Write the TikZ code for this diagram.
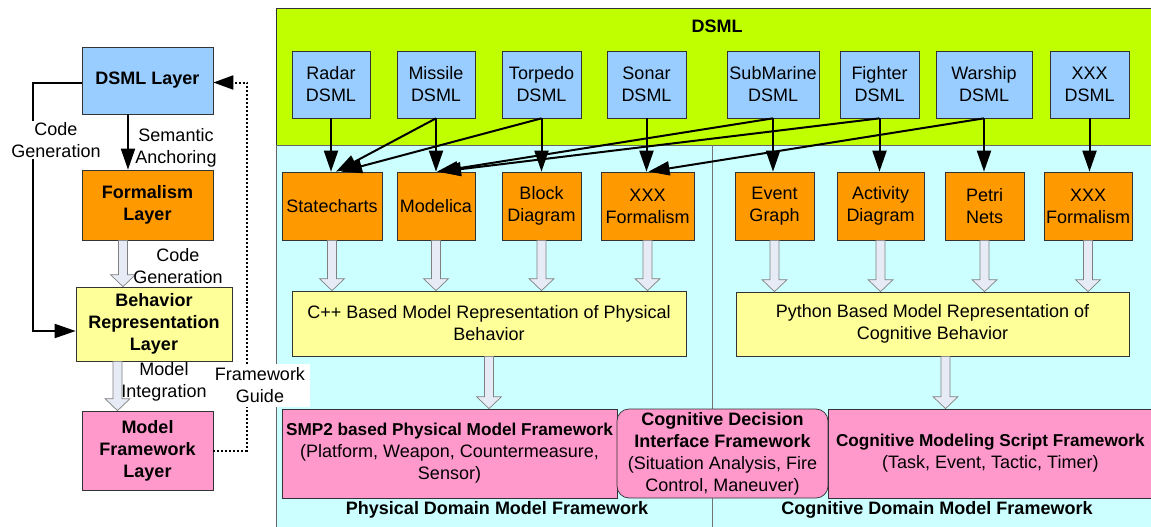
\documentclass[tikz,border=0pt]{standalone}
\usepackage{fontspec}
\setmainfont{Liberation Sans}
\usetikzlibrary{arrows.meta,calc}
\definecolor{cdsml}{HTML}{99CCFF}
\definecolor{corange}{HTML}{FF9900}
\definecolor{cyellow}{HTML}{FFFF99}
\definecolor{cpink}{HTML}{FF99CC}
\definecolor{cgreen}{HTML}{BFFF00}
\definecolor{ccyan}{HTML}{CCFFFF}
\definecolor{carrowfill}{HTML}{E6EBF5}
\newcommand\myfs{\fontsize{18pt}{22pt}\selectfont}
\newcommand\mybf{\fontsize{17.2pt}{22pt}\selectfont\bfseries}
\newcommand\fatarrow[2]{%
  \path let \p1=(#1), \p2=(#2) in [fatarr]
   (\x1-4.5pt,\y1) -- (\x1+4.5pt,\y1) -- (\x1+4.5pt,\y2+12pt) -- (\x1+12.5pt,\y2+12pt)
   -- (\x1,\y2) -- (\x1-12.5pt,\y2+12pt) -- (\x1-4.5pt,\y2+12pt) -- cycle;}
\begin{document}
\begin{tikzpicture}[x=1pt,y=-1pt,
  box/.style={draw=black!80, line width=0.7pt, inner sep=0pt, align=center, font=\myfs},
  blkarr/.style={line width=2pt, -{Triangle[length=21pt,width=14pt]}},
  fatarr/.style={draw=black!50, fill=carrowfill, line width=0.7pt},
  lbl/.style={align=center, font=\myfs, inner sep=1pt}]
\useasboundingbox (0,0) rectangle (1151,527);
% backgrounds
\draw[draw=black!80, line width=0.8pt, fill=cgreen] (276,8) rectangle (1165,145);
\draw[draw=black!60, line width=0.8pt, fill=ccyan] (276,145) rectangle (1165,540);
\draw[black!55, line width=0.8pt] (712,145) -- (712,527);
\node[font=\myfs\bfseries] (title) at (717,26) {DSML};

% left panel
\node[box, fill=cdsml, minimum width=131pt, minimum height=67pt, font=\myfs\bfseries] (dsmlL) at (147.5,80.5) {DSML Layer};
\node[box, fill=corange, minimum width=131pt, minimum height=70pt, font=\myfs\bfseries] (formL) at (147.5,205) {Formalism\\Layer};
\node[box, fill=cyellow, minimum width=156pt, minimum height=74pt, font=\myfs\bfseries] (behL) at (154,324) {Behavior\\Representation\\Layer};
\node[box, fill=cpink, minimum width=131pt, minimum height=79pt, font=\myfs\bfseries] (modL) at (147.5,450.5) {Model\\Framework\\Layer};

\draw[blkarr] ([xshift=-19.5pt]dsmlL.south) -- ([xshift=-19.5pt]formL.north);
\node[lbl] (semL) at (176,148) {Semantic\\Anchoring};
\coordinate (cgc) at (33,140);
\draw[blkarr] ([yshift=-2pt]dsmlL.west) -| (cgc) |- ([yshift=-7pt]behL.west);
\node[lbl, fill=white] (cgL) at (56,140) {Code\\Generation};
\coordinate (fa1) at ([xshift=-24.5pt]formL.south);
\fatarrow{fa1}{fa1 |- behL.north}
\node[lbl] (cg2L) at (178,266) {Code\\Generation};
\coordinate (fa2) at ([xshift=-36.5pt]behL.south);
\fatarrow{fa2}{fa2 |- modL.north}
\node[lbl] (miL) at (164,382) {Model\\Integration};
\coordinate (fgc) at (247,300);
\draw[dash pattern=on 2pt off 2pt, line width=2pt, -{Triangle[length=20pt,width=14pt]}] (modL.east) -| (fgc) |- ([yshift=-2pt]dsmlL.east);
\node[lbl, fill=white, minimum width=100pt, minimum height=43pt, inner sep=0pt] (fgL) at (260,385.5) {Framework\\Guide};

% DSML boxes
\node[box, fill=cdsml, minimum width=78pt, minimum height=67pt] (radar) at (331,84.5) {Radar\\DSML};
\node[box, fill=cdsml, minimum width=78pt, minimum height=67pt] (missile) at (436,84.5) {Missile\\DSML};
\node[box, fill=cdsml, minimum width=79pt, minimum height=67pt] (torpedo) at (541.5,84.5) {Torpedo\\DSML};
\node[box, fill=cdsml, minimum width=79pt, minimum height=67pt] (sonar) at (646.5,84.5) {Sonar\\DSML};
\node[box, fill=cdsml, minimum width=92pt, minimum height=67pt] (submarine) at (773,84.5) {SubMarine\\DSML};
\node[box, fill=cdsml, minimum width=79pt, minimum height=67pt] (fighter) at (879.5,84.5) {Fighter\\DSML};
\node[box, fill=cdsml, minimum width=96pt, minimum height=67pt] (warship) at (984,84.5) {Warship\\DSML};
\node[box, fill=cdsml, minimum width=79pt, minimum height=67pt] (xxxd) at (1089.5,84.5) {XXX\\DSML};

% formalism boxes
\node[box, fill=corange, minimum width=100pt, minimum height=68pt] (stc) at (332,206) {Statecharts};
\node[box, fill=corange, minimum width=78pt, minimum height=68pt] (mod) at (436,206) {Modelica};
\node[box, fill=corange, minimum width=79pt, minimum height=68pt] (bdg) at (541.5,206) {Block\\Diagram};
\node[box, fill=corange, minimum width=93pt, minimum height=68pt] (xf1) at (647.5,206) {XXX\\Formalism};
\node[box, fill=corange, minimum width=79pt, minimum height=68pt] (evg) at (774.5,206) {Event\\Graph};
\node[box, fill=corange, minimum width=87pt, minimum height=68pt] (act) at (880.5,206) {Activity\\Diagram};
\node[box, fill=corange, minimum width=79pt, minimum height=68pt] (pet) at (984.5,206) {Petri\\Nets};
\node[box, fill=corange, minimum width=88pt, minimum height=68pt] (xf2) at (1088,206) {XXX\\Formalism};

% DSML -> formalism
\foreach \a/\b in {radar/stc, missile/mod, torpedo/bdg, sonar/xf1, submarine/evg, fighter/act, warship/pet, xxxd/xf2}
  \draw[blkarr] (\a.south) -- (\a.south |- \b.north);
\draw[blkarr] (missile.south) -- ([xshift=4pt]stc.north);
\draw[blkarr] (torpedo.south) -- ([xshift=9pt]stc.north);
\draw[blkarr] (submarine.south) -- ([xshift=1pt]mod.north);
\draw[blkarr] (fighter.south) -- ([xshift=4pt]mod.north);
\draw[blkarr] (warship.south) -- ([xshift=1pt]xf1.north);

% representation boxes
\node[box, fill=cyellow, minimum width=394pt, minimum height=65pt] (phys) at (489,323.5) {C++ Based Model Representation of Physical\\Behavior};
\node[box, fill=cyellow, minimum width=393pt, minimum height=64pt] (cogn) at (932.5,324) {Python Based Model Representation of\\Cognitive Behavior};

\foreach \f in {stc,mod,bdg,xf1} {\fatarrow{\f.south}{\f.south |- phys.north}}
\foreach \f in {evg,act,pet,xf2} {\fatarrow{\f.south}{\f.south |- cogn.north}}

% framework boxes
\node[box, fill=cpink, minimum width=335pt, minimum height=89pt] (smp2) at (449.5,453.5) {{\mybf SMP2 based Physical Model Framework}\\(Platform, Weapon, Countermeasure,\\Sensor)};
\node[box, fill=cpink, minimum width=211pt, minimum height=89pt, rounded corners=12pt] (cdi) at (722.5,453.5) {{\bfseries Cognitive Decision}\\{\bfseries Interface Framework}\\(Situation Analysis, Fire\\Control, Maneuver)};
\node[box, fill=cpink, minimum width=330pt, minimum height=89pt, anchor=west] (cms) at (828,453.5) {\hspace*{-6pt}{\mybf Cognitive Modeling Script Framework}\\\hspace*{-6pt}(Task, Event, Tactic, Timer)};

\fatarrow{phys.south}{phys.south |- smp2.north}
\coordinate (fa3) at ([xshift=13pt]cogn.south);
\fatarrow{fa3}{fa3 |- cms.north}

\node[font=\myfs\bfseries] (pdl) at (497,510) {Physical Domain Model Framework};
\node[font=\myfs\bfseries] (cdl) at (937,510) {Cognitive Domain Model Framework};
\end{tikzpicture}
\end{document}
